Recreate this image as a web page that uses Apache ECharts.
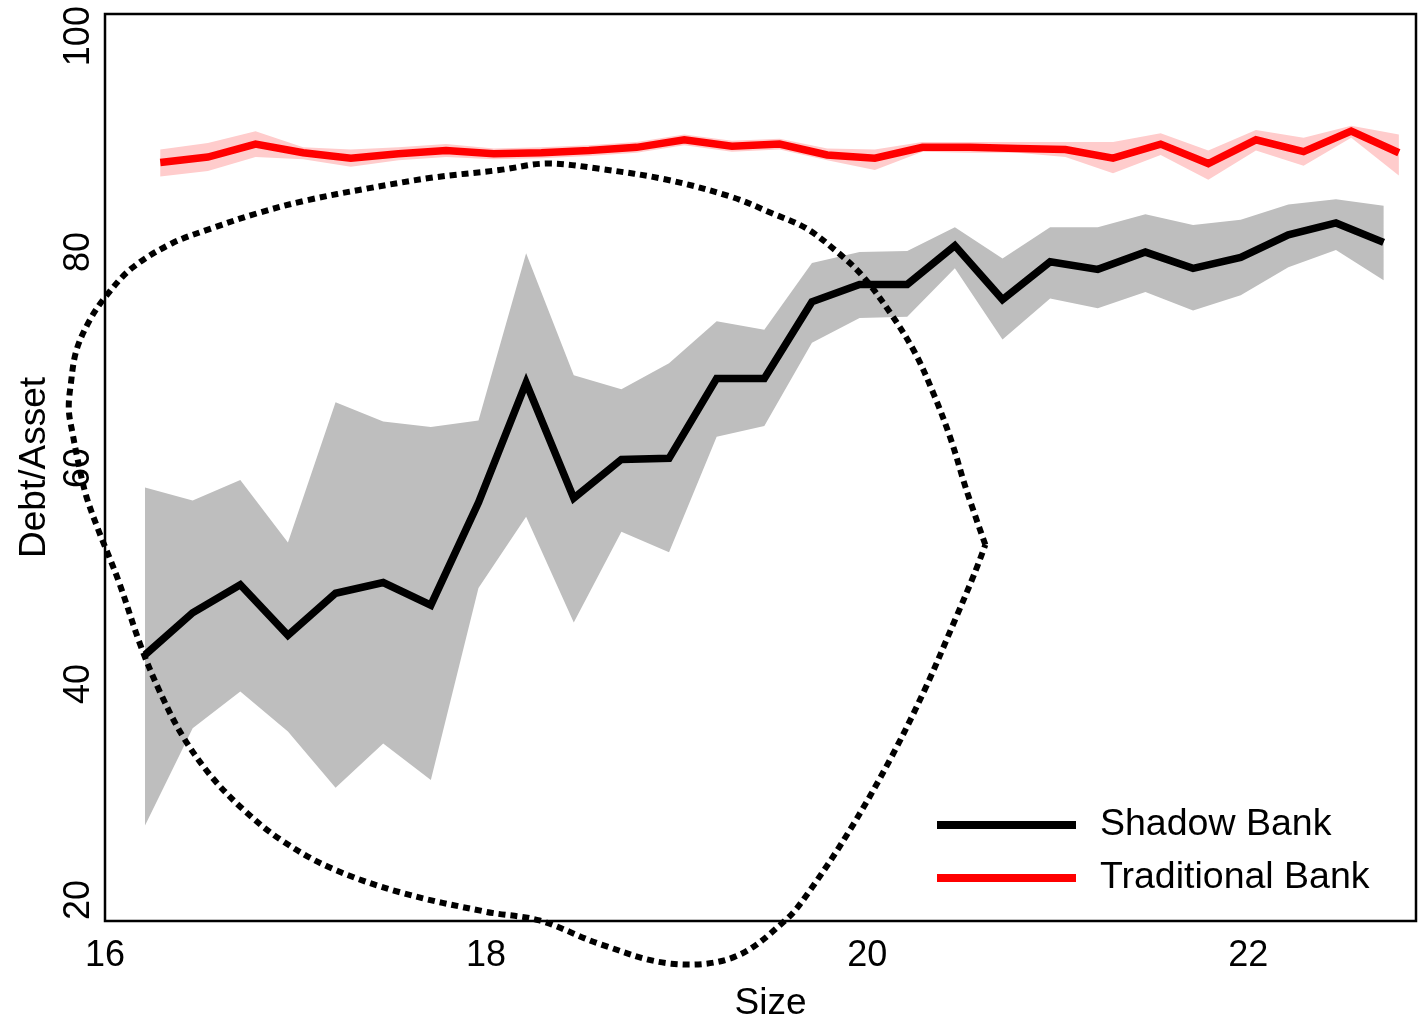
<!DOCTYPE html>
<html>
<head>
<meta charset="utf-8">
<script src="https://cdn.jsdelivr.net/npm/echarts@6/dist/echarts.min.js"></script>
<style>
  html, body { margin: 0; padding: 0; background: #fff; }
  #chart { width: 1428px; height: 1022px; }
</style>
</head>
<body>
<div id="chart"></div>
<script>
// size bins (log size) for each group
const sizeShadow = [16.21, 16.46, 16.71, 16.96, 17.21, 17.46, 17.71, 17.96, 18.21, 18.46, 18.71, 18.96, 19.21, 19.46,
  19.71, 19.96, 20.21, 20.46, 20.71, 20.96, 21.21, 21.46, 21.71, 21.96, 22.21, 22.46, 22.71];
const sizeTraditional = [16.29, 16.54, 16.79, 17.04, 17.29, 17.54, 17.79, 18.04, 18.29, 18.54, 18.79, 19.04, 19.29, 19.54,
  19.79, 20.04, 20.29, 20.54, 20.79, 21.04, 21.29, 21.54, 21.79, 22.04, 22.29, 22.54, 22.79];

const shadowMean = [42.7, 46.6, 49.2, 44.5, 48.4, 49.4, 47.3, 56.8, 67.9, 57.2, 60.8, 60.9, 68.3, 68.3,
  75.4, 77.0, 77.0, 80.6, 75.6, 79.1, 78.4, 80.0, 78.5, 79.5, 81.6, 82.7, 80.9];
const shadowUpper = [58.2, 57.0, 58.9, 53.1, 66.1, 64.3, 63.8, 64.4, 79.9, 68.6, 67.3, 69.7, 73.6, 72.8,
  79.0, 80.0, 80.1, 82.3, 79.4, 82.3, 82.3, 83.5, 82.5, 83.0, 84.4, 84.9, 84.3];
const shadowLower = [26.9, 35.9, 39.3, 35.6, 30.4, 34.5, 31.1, 48.9, 55.5, 45.7, 54.1, 52.2, 62.9, 63.9,
  71.6, 73.9, 74.0, 78.5, 71.9, 75.7, 74.8, 76.3, 74.6, 76.0, 78.6, 80.2, 77.4];

const tradMean = [88.3, 88.8, 90.0, 89.2, 88.7, 89.1, 89.4, 89.1, 89.2, 89.4, 89.7, 90.4, 89.8, 90.0,
  89.0, 88.7, 89.7, 89.7, 89.6, 89.5, 88.7, 90.0, 88.2, 90.4, 89.3, 91.2, 89.2];
const tradUpper = [89.5, 90.1, 91.2, 89.7, 89.5, 89.7, 90.0, 89.6, 89.7, 89.9, 90.2, 90.9, 90.3, 90.5,
  89.6, 89.5, 90.2, 90.2, 90.2, 90.2, 90.2, 91.0, 89.4, 91.3, 90.6, 91.7, 90.9];
const tradLower = [87.0, 87.5, 88.8, 88.6, 87.9, 88.5, 88.8, 88.6, 88.7, 88.9, 89.2, 89.9, 89.3, 89.5,
  88.5, 87.6, 89.3, 89.2, 89.2, 88.8, 87.3, 89.0, 86.7, 89.4, 88.0, 90.6, 87.1];

// dotted outline drawn around the small-size region (size, debt/asset)
const outlineX = [20.62, 20.52, 20.44, 20.35, 20.25, 20.12, 19.97, 19.83, 19.68, 19.50, 19.29, 18.95, 18.60, 18.32,
  18.07, 17.72, 17.38, 17.06, 16.80, 16.56, 16.35, 16.14, 16.00, 15.92, 15.85, 15.82, 15.81, 15.83, 15.86, 15.90,
  15.96, 16.07, 16.19, 16.29, 16.41, 16.56, 16.73, 16.92, 17.18, 17.55, 18.00, 18.28, 18.60, 18.97, 19.30, 19.57,
  19.70, 19.91, 20.12, 20.30, 20.46, 20.56, 20.62];
const outlineY = [52.9, 58.0, 62.6, 66.8, 70.7, 74.4, 77.9, 80.2, 82.2, 83.6, 85.1, 86.7, 87.7, 88.2,
  87.6, 86.9, 85.9, 84.8, 83.6, 82.2, 80.8, 78.5, 75.8, 73.7, 70.9, 67.7, 65.4, 63.2, 60.5, 57.5,
  54.5, 49.6, 43.4, 39.2, 35.1, 31.4, 28.3, 25.6, 23.0, 20.7, 18.9, 18.1, 15.9, 14.1, 14.7, 18.1,
  20.9, 26.5, 33.0, 39.4, 45.9, 50.1, 52.9];

const xTicks = [16, 18, 20, 22];
const yTicks = [20, 40, 60, 80, 100];

const FONT = "'Liberation Sans', Arial, sans-serif";

const pairs = (xs, ys) => xs.map((x, i) => [x, ys[i]]);

const bandSeries = (name, xs, lo, hi, color) => ({
  name: name,
  type: "custom",
  silent: true,
  z: 1,
  data: xs.map((x, i) => [x, lo[i], hi[i]]),
  encode: { x: 0, y: [1, 2] },
  renderItem: (params, api) => {
    if (params.dataIndex !== 0) return null;
    const top = xs.map((x, i) => api.coord([x, hi[i]]));
    const bottom = xs.map((x, i) => api.coord([x, lo[i]])).reverse();
    return {
      type: "polygon",
      shape: { points: top.concat(bottom) },
      style: { fill: color },
    };
  },
});

const chart = echarts.init(document.getElementById("chart"));
chart.setOption({
  animation: false,
  backgroundColor: "#fff",
  textStyle: { fontFamily: FONT, color: "#000" },
  grid: {
    left: 105,
    right: 12,
    top: 14,
    bottom: 101,
    outerBoundsMode: "none",
    show: true,
    borderColor: "#000",
    borderWidth: 2.5,
  },
  legend: {
    orient: "vertical",
    left: 937,
    top: 806,
    padding: 0,
    itemGap: 15,
    icon: "rect",
    itemWidth: 139,
    itemHeight: 8,
    data: ["Shadow Bank", "Traditional Bank"],
    textStyle: { fontSize: 37.5, color: "#000", fontFamily: FONT, padding: [0, 0, 0, 19] },
  },
  xAxis: {
    type: "value",
    min: 16,
    max: 22.88,
    axisLine: { show: false },
    axisTick: { show: false },
    splitLine: { show: false },
    axisLabel: { customValues: xTicks, fontSize: 36, color: "#000", margin: 17, fontFamily: FONT },
    name: "Size",
    nameLocation: "middle",
    nameGap: 64,
    nameTextStyle: { fontSize: 37, color: "#000", fontFamily: FONT, padding: [0, 0, 0, 20] },
  },
  yAxis: {
    type: "value",
    min: 18.05,
    max: 102.05,
    axisLine: { show: false },
    axisTick: { show: false },
    splitLine: { show: false },
    axisLabel: { customValues: yTicks, rotate: 90, fontSize: 36, color: "#000", margin: 8, fontFamily: FONT },
    name: "Debt/Asset",
    nameLocation: "middle",
    nameRotate: 90,
    nameGap: 48,
    nameTextStyle: { fontSize: 37, color: "#000", fontFamily: FONT },
  },
  series: [
    bandSeries("Shadow band", sizeShadow, shadowLower, shadowUpper, "#bebebe"),
    bandSeries("Traditional band", sizeTraditional, tradLower, tradUpper, "#ffcccc"),
    {
      name: "Shadow Bank",
      type: "line",
      data: pairs(sizeShadow, shadowMean),
      symbol: "none",
      z: 3,
      itemStyle: { color: "#000" },
      lineStyle: { color: "#000", width: 7.5, join: "miter", cap: "butt" },
    },
    {
      name: "Traditional Bank",
      type: "line",
      data: pairs(sizeTraditional, tradMean),
      symbol: "none",
      z: 3,
      itemStyle: { color: "#ff0000" },
      lineStyle: { color: "#ff0000", width: 7.5, join: "miter", cap: "butt" },
    },
    {
      // closed dotted outline, allowed to run past the plot frame
      name: "outline",
      type: "custom",
      silent: true,
      clip: false,
      z: 5,
      data: pairs(outlineX, outlineY),
      encode: { x: 0, y: 1 },
      renderItem: (params, api) => {
        if (params.dataIndex !== 0) return null;
        const pts = outlineX.map((x, i) => api.coord([x, outlineY[i]]));
        return {
          type: "polyline",
          shape: { points: pts, smooth: 0.35 },
          style: { stroke: "#000", fill: null, lineWidth: 6, lineDash: [7, 5], lineCap: "butt" },
        };
      },
    },
  ],
});
</script>
</body>
</html>
